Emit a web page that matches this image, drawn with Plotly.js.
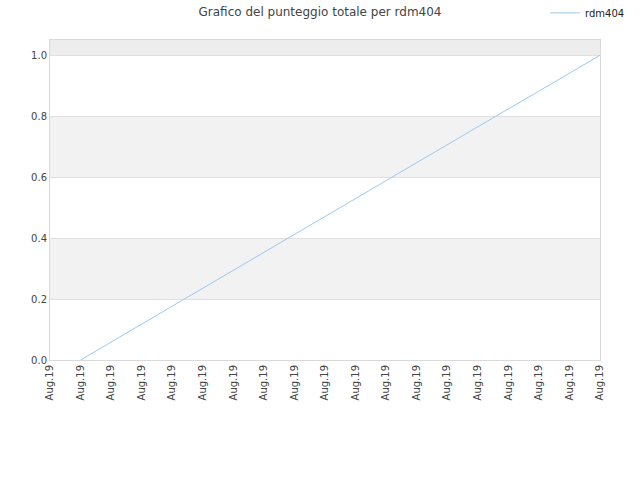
<!DOCTYPE html>
<html>
<head>
<meta charset="utf-8">
<script src="https://cdn.plot.ly/plotly-3.0.1.min.js"></script>
<style>html,body{margin:0;padding:0;background:#fff;}</style>
</head>
<body>
<div id="myPlot" style="width:640px;height:480px;"></div>
<script>
var tick_pos = [0,1,2,3,4,5,6,7,8,9,10,11,12,13,14,15,16,17,18];
var tick_labels = ['Aug.19','Aug.19','Aug.19','Aug.19','Aug.19','Aug.19','Aug.19','Aug.19','Aug.19','Aug.19',
                   'Aug.19','Aug.19','Aug.19','Aug.19','Aug.19','Aug.19','Aug.19','Aug.19','Aug.19'];
var x_vals = [1,2,3,4,5,6,7,8,9,10,11,12,13,14,15,16,17,18];
var y_vals = [0,0.059,0.118,0.176,0.235,0.294,0.353,0.412,0.471,0.529,0.588,0.647,0.706,0.765,0.824,0.882,0.941,1.0];
var player = 'rdm404';

var bands = [[0.2,0.4,'#f2f2f2'],[0.6,0.8,'#f2f2f2'],[1.0,1.05,'#ededed']];
var shapes = [];
for(var i = 0; i < bands.length; i++){
  shapes.push({
    type: 'rect', xref: 'paper', yref: 'y', layer: 'below',
    x0: 0, x1: 1, y0: bands[i][0], y1: bands[i][1],
    fillcolor: bands[i][2], line: {width: 0}
  });
}

var trace = {
  x: x_vals,
  y: y_vals,
  name: player,
  mode: 'lines',
  type: 'scatter',
  line: {color: '#99c9f5', width: 1}
};

var layout = {
  width: 640,
  height: 480,
  margin: {l: 50, r: 40, t: 40, b: 120, autoexpand: false},
  paper_bgcolor: '#ffffff',
  plot_bgcolor: '#ffffff',
  font: {family: 'DejaVu Sans', size: 10, color: '#444'},
  title: {
    text: 'Grafico del punteggio totale per ' + player,
    font: {family: 'DejaVu Sans', size: 12, color: '#444'},
    x: 0.5, xanchor: 'center', y: 0.985, yanchor: 'top'
  },
  showlegend: true,
  legend: {
    x: 0.9, xanchor: 'left', y: 1.13, yanchor: 'top',
    font: {family: 'DejaVu Sans', size: 10, color: '#222'},
    bgcolor: 'rgba(0,0,0,0)'
  },
  xaxis: {
    range: [0, 18],
    tickvals: tick_pos,
    ticktext: tick_labels,
    tickangle: -90,
    showgrid: false,
    zeroline: false,
    showline: true,
    linecolor: '#d9d9d9',
    mirror: true,
    ticks: '',
    tickfont: {family: 'DejaVu Sans', size: 10, color: '#444'}
  },
  yaxis: {
    range: [0, 1.05],
    tickvals: [0, 0.2, 0.4, 0.6, 0.8, 1.0],
    tickformat: '.1f',
    showgrid: true,
    gridcolor: '#e0e0e0',
    zeroline: false,
    showline: true,
    linecolor: '#d9d9d9',
    mirror: true,
    ticks: '',
    tickfont: {family: 'DejaVu Sans', size: 10, color: '#444'}
  },
  shapes: shapes
};

Plotly.newPlot('myPlot', [trace], layout, {displayModeBar: false});
</script>
</body>
</html>
